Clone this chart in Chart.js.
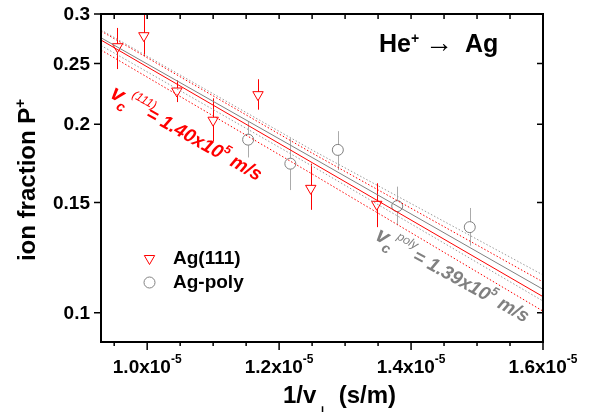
<!DOCTYPE html>
<html>
<head>
<meta charset="utf-8">
<script src="https://cdn.jsdelivr.net/npm/chart.js@4.4.0/dist/chart.umd.min.js"></script>
<style>
    html, body { margin: 0; padding: 0; background: #fff; }
    canvas { display: block; }
</style>
</head>
<body>
<canvas id="ionChart" width="589" height="412"></canvas>
<script>
    // Ag(111) points and error bars
    var x111 = [0.955e-5, 0.995e-5, 1.045e-5, 1.100e-5, 1.168e-5, 1.248e-5, 1.348e-5];
    var y111 = [0.266, 0.277, 0.226, 0.203, 0.223, 0.158, 0.149];
    var y111Lo = [0.245, 0.257, 0.217, 0.188, 0.211, 0.146, 0.137];
    var y111Hi = [0.285, 0.320, 0.235, 0.220, 0.236, 0.173, 0.161];

    // Ag-poly points and error bars
    var xPoly = [1.153e-5, 1.217e-5, 1.289e-5, 1.379e-5, 1.489e-5];
    var yPoly = [0.189, 0.173, 0.182, 0.148, 0.137];
    var yPolyLo = [0.177, 0.157, 0.169, 0.138, 0.128];
    var yPolyHi = [0.202, 0.190, 0.195, 0.159, 0.147];

    // fit lines and confidence bands
    var fitX = [0.93e-5, 1.25e-5, 1.6e-5];
    var fit111 = [0.2726, 0.1737, 0.1061];
    var fit111Up = [0.2818, 0.1799, 0.1120];
    var fit111Dn = [0.2628, 0.1666, 0.1006];
    var fitPoly = [0.2749, 0.1770, 0.1090];
    var fitPolyUp = [0.2829, 0.1819, 0.1149];
    var fitPolyDn = [0.2672, 0.1715, 0.1044];

    // axes
    var xTickVals = [1.0e-5, 1.2e-5, 1.4e-5, 1.6e-5];
    var xTickText = ['1.0x10', '1.2x10', '1.4x10', '1.6x10'];
    var xTickExp = '-5';
    var xMinorVals = [0.95e-5, 1.05e-5, 1.1e-5, 1.15e-5, 1.25e-5, 1.3e-5, 1.35e-5, 1.45e-5, 1.5e-5, 1.55e-5];
    var yTickVals = [0.1, 0.15, 0.2, 0.25, 0.3];
    var yTickText = ['0.1', '0.15', '0.2', '0.25', '0.3'];

    var RED = '#ff0000';
    var GREY = '#808080';
    var FONT = '"Liberation Sans", Arial, Helvetica, sans-serif';

    function pts(xs, ys) {
        return xs.map(function (x, i) { return { x: x, y: ys[i] }; });
    }

    function fitLine(ys, color, dotted) {
        return {
            data: pts(fitX, ys),
            showLine: true,
            pointRadius: 0,
            borderColor: color,
            borderWidth: 1,
            borderDash: dotted ? [1.5, 2] : [],
            order: 0
        };
    }

    // draw a row of text pieces: [text, font, x, dy]; x null = follow previous piece
    function drawRuns(ctx, runs) {
        var cx = 0;
        runs.forEach(function (r) {
            ctx.font = r[1];
            var x = r[2] == null ? cx : r[2];
            ctx.fillText(r[0], x, r[3] || 0);
            cx = x + ctx.measureText(r[0]).width;
        });
        return cx;
    }

    function drawVc(ctx, x, y, angle, color, sup, eqStart, value) {
        ctx.save();
        ctx.translate(x, y);
        ctx.rotate(angle * Math.PI / 180);
        ctx.fillStyle = color;
        ctx.textBaseline = 'alphabetic';
        ctx.textAlign = 'left';
        ctx.font = 'italic bold 22px ' + FONT;
        var vw = ctx.measureText('v').width;
        drawRuns(ctx, [
            ['v', 'italic bold 22px ' + FONT, 0, 0],
            ['c', 'italic bold 14px ' + FONT, vw - 1, 7],
            [sup, 'italic 12px ' + FONT, vw + 7, -11],
            ['= ' + value, 'italic bold 19px ' + FONT, eqStart, 0],
            ['5', 'italic bold 12px ' + FONT, null, -9],
            [' m/s', 'italic bold 19px ' + FONT, null, 0]
        ]);
        ctx.restore();
    }

    var errorBars = {
        id: 'errorBars',
        beforeDatasetsDraw: function (chart) {
            var ctx = chart.ctx, a = chart.chartArea, xs = chart.scales.x, ys = chart.scales.y;
            ctx.save();
            ctx.beginPath();
            ctx.rect(a.left, a.top, a.right - a.left, a.bottom - a.top);
            ctx.clip();
            ctx.lineWidth = 1;
            [[x111, y111Lo, y111Hi, RED], [xPoly, yPolyLo, yPolyHi, '#ababab']].forEach(function (s) {
                ctx.strokeStyle = s[3];
                s[0].forEach(function (x, i) {
                    var px = Math.round(xs.getPixelForValue(x)) + 0.5;
                    ctx.beginPath();
                    ctx.moveTo(px, ys.getPixelForValue(s[1][i]));
                    ctx.lineTo(px, ys.getPixelForValue(s[2][i]));
                    ctx.stroke();
                });
            });
            ctx.restore();
        }
    };

    var frame = {
        id: 'frame',
        afterDraw: function (chart) {
            var ctx = chart.ctx, a = chart.chartArea, xs = chart.scales.x, ys = chart.scales.y;
            ctx.save();
            ctx.strokeStyle = '#000';
            ctx.fillStyle = '#000';

            // ticks
            ctx.lineWidth = 1.5;
            ctx.beginPath();
            xTickVals.forEach(function (v) {
                var px = xs.getPixelForValue(v);
                ctx.moveTo(px, a.bottom); ctx.lineTo(px, a.bottom + 8);
                if (px < a.right - 2) { ctx.moveTo(px, a.top); ctx.lineTo(px, a.top + 5); }
            });
            xMinorVals.forEach(function (v) {
                var px = xs.getPixelForValue(v);
                ctx.moveTo(px, a.bottom); ctx.lineTo(px, a.bottom + 4);
                ctx.moveTo(px, a.top); ctx.lineTo(px, a.top + 5);
            });
            yTickVals.forEach(function (v) {
                var py = ys.getPixelForValue(v);
                ctx.moveTo(a.left, py); ctx.lineTo(a.left - 7, py);
                if (py > a.top + 2) { ctx.moveTo(a.right, py); ctx.lineTo(a.right - 6, py); }
            });
            ctx.stroke();

            ctx.lineWidth = 2;
            ctx.strokeRect(a.left, a.top, a.right - a.left, a.bottom - a.top);

            // y tick labels
            ctx.font = 'bold 19px ' + FONT;
            ctx.textAlign = 'right';
            ctx.textBaseline = 'middle';
            yTickVals.forEach(function (v, i) {
                ctx.fillText(yTickText[i], a.left - 11, ys.getPixelForValue(v) + 1);
            });

            // x tick labels with exponent
            ctx.textAlign = 'left';
            ctx.textBaseline = 'alphabetic';
            xTickVals.forEach(function (v, i) {
                ctx.font = 'bold 19px ' + FONT;
                var w1 = ctx.measureText(xTickText[i]).width;
                ctx.font = 'bold 12px ' + FONT;
                var w2 = ctx.measureText(xTickExp).width;
                var x0 = xs.getPixelForValue(v) - (w1 + w2) / 2;
                ctx.font = 'bold 19px ' + FONT;
                ctx.fillText(xTickText[i], x0, a.bottom + 31);
                ctx.font = 'bold 12px ' + FONT;
                ctx.fillText(xTickExp, x0 + w1, a.bottom + 21);
            });

            // x axis title
            ctx.save();
            ctx.translate(283, 403);
            drawRuns(ctx, [
                ['1/v', 'bold 24px ' + FONT, 0, 0],
                ['\u22a5', 'bold 15px ' + FONT, null, 14],
                [' (s/m)', 'bold 24px ' + FONT, 49, 0]
            ]);
            ctx.restore();

            // y axis title
            ctx.save();
            ctx.translate(35, 180);
            ctx.rotate(-Math.PI / 2);
            ctx.font = 'bold 24px ' + FONT;
            var tw = ctx.measureText('ion fraction P').width;
            ctx.font = 'bold 15px ' + FONT;
            tw += ctx.measureText('+').width;
            ctx.translate(-tw / 2, 0);
            drawRuns(ctx, [
                ['ion fraction P', 'bold 24px ' + FONT, 0, 0],
                ['+', 'bold 15px ' + FONT, null, -10]
            ]);
            ctx.restore();

            // title
            ctx.save();
            ctx.translate(379, 52);
            drawRuns(ctx, [
                ['He', 'bold 25px ' + FONT, 0, 0],
                ['+', 'bold 14px ' + FONT, null, -9],
                ['\u2192', 'bold 28px ' + FONT, 46, 0],
                ['Ag', 'bold 25px ' + FONT, 86, 0]
            ]);
            ctx.restore();

            // velocity labels
            drawVc(ctx, 109, 97, 29.5, RED, '(111)', 41, '1.40x10');
            drawVc(ctx, 374, 239, 29, GREY, 'poly', 43, '1.39x10');

            // legend, markers styled like their datasets
            var ds = chart.data.datasets;
            [[ds[0], 258.5], [ds[1], 282.5]].forEach(function (l) {
                ctx.strokeStyle = l[0].borderColor;
                ctx.fillStyle = l[0].backgroundColor;
                ctx.lineWidth = l[0].borderWidth;
                Chart.helpers.drawPoint(ctx, {
                    pointStyle: l[0].pointStyle,
                    rotation: l[0].rotation || 0,
                    radius: l[0].pointRadius,
                    borderWidth: l[0].borderWidth
                }, 149.5, l[1]);
            });
            ctx.fillStyle = '#000';
            ctx.font = 'bold 19px ' + FONT;
            ctx.textAlign = 'left';
            ctx.textBaseline = 'middle';
            ctx.fillText(ds[0].label, 173, 259);
            ctx.fillText(ds[1].label, 173, 283);
            ctx.restore();
        }
    };

    new Chart(document.getElementById('ionChart'), {
        type: 'scatter',
        data: {
            datasets: [
                {
                    label: 'Ag(111)',
                    data: pts(x111, y111),
                    pointStyle: 'triangle',
                    rotation: 180,
                    pointRadius: 6,
                    borderColor: RED,
                    backgroundColor: '#fff',
                    borderWidth: 1,
                    order: 1
                },
                {
                    label: 'Ag-poly',
                    data: pts(xPoly, yPoly),
                    pointStyle: 'circle',
                    pointRadius: 5.5,
                    borderColor: GREY,
                    backgroundColor: '#fff',
                    borderWidth: 1,
                    order: 1
                },
                fitLine(fitPolyUp, '#9a9a9a', true),
                fitLine(fitPolyDn, '#9a9a9a', true),
                fitLine(fit111Up, RED, true),
                fitLine(fit111Dn, RED, true),
                fitLine(fitPoly, GREY, false),
                fitLine(fit111, RED, false)
            ]
        },
        options: {
            responsive: false,
            animation: false,
            devicePixelRatio: 1,
            layout: { padding: { top: 14, right: 46, left: 0, bottom: 0 } },
            plugins: {
                legend: { display: false },
                tooltip: { enabled: false }
            },
            scales: {
                x: {
                    type: 'linear',
                    min: 0.93e-5,
                    max: 1.6e-5,
                    ticks: { display: false },
                    grid: { display: false },
                    border: { display: false },
                    afterFit: function (s) { s.height = 70; }
                },
                y: {
                    type: 'logarithmic',
                    min: 0.0898,
                    max: 0.3,
                    ticks: { display: false },
                    grid: { display: false },
                    border: { display: false },
                    afterFit: function (s) { s.width = 101; }
                }
            }
        },
        plugins: [errorBars, frame]
    });
</script>
</body>
</html>
